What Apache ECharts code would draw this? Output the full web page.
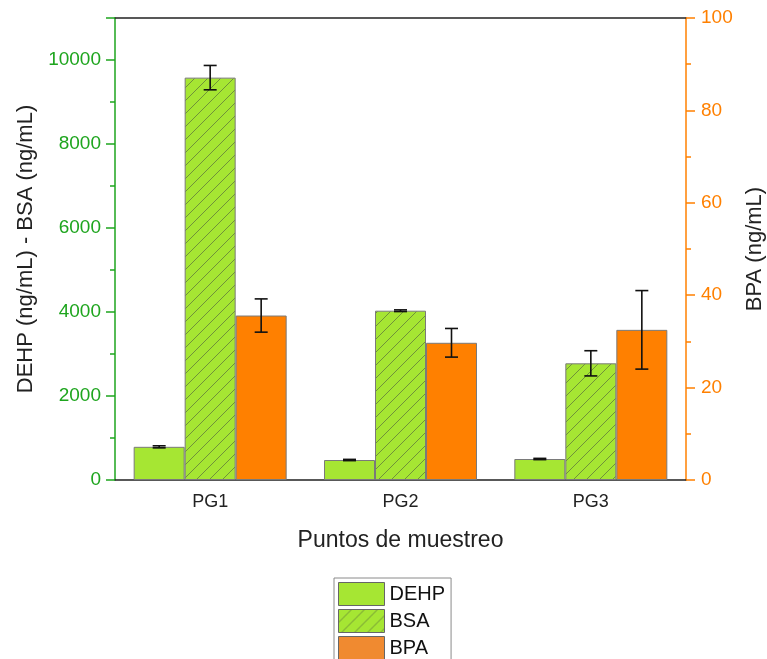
<!DOCTYPE html>
<html>
<head>
<meta charset="utf-8">
<script src="https://cdn.jsdelivr.net/npm/echarts@6/dist/echarts.min.js"></script>
<style>html,body{margin:0;padding:0;background:#fff;overflow:hidden}#c{width:767px;height:659px}</style>
</head>
<body>
<div id="c"></div>
<script>
const categories = ['PG1', 'PG2', 'PG3'];
const dehp = [790, 476, 500];
const dehpErr = [25, 15, 15];
const bsa = [9580, 4031, 2778];
const bsaErr = [290, 20, 300];
const bpa = [35.6, 29.7, 32.5];
const bpaErr = [3.6, 3.1, 8.5];

const FONT = '"Liberation Sans", Arial, sans-serif';
const GREEN = '#a6e633';
const ORANGE = '#ff8000';
const AXGREEN = '#1ea51e';

function hatch() {
  const s = 13;
  const c = document.createElement('canvas');
  c.width = s; c.height = s;
  const g = c.getContext('2d');
  g.fillStyle = GREEN;
  g.fillRect(0, 0, s, s);
  g.strokeStyle = 'rgba(90,110,60,0.7)';
  g.lineWidth = 1;
  g.beginPath();
  g.moveTo(0, s); g.lineTo(s, 0);
  g.moveTo(-2, 2); g.lineTo(2, -2);
  g.moveTo(s - 2, s + 2); g.lineTo(s + 2, s - 2);
  g.stroke();
  return c;
}

function errData(vals, errs) {
  return vals.map((v, i) => [i, v - errs[i], v + errs[i]]);
}
function errSeries(vals, errs, yIdx, offset) {
  return {
    type: 'custom',
    xAxisIndex: 0,
    yAxisIndex: yIdx,
    z: 10,
    silent: true,
    encode: { x: 0, y: [1, 2] },
    data: errData(vals, errs),
    renderItem: function (params, api) {
      const x = api.value(0);
      const pHi = api.coord([x, api.value(2)]);
      const pLo = api.coord([x, api.value(1)]);
      const cx = pHi[0] + offset;
      const h = 6.5;
      const st = { stroke: '#111', lineWidth: 1.6 };
      return {
        type: 'group',
        children: [
          { type: 'line', shape: { x1: cx, y1: pHi[1], x2: cx, y2: pLo[1] }, style: st },
          { type: 'line', shape: { x1: cx - h, y1: pHi[1], x2: cx + h, y2: pHi[1] }, style: st },
          { type: 'line', shape: { x1: cx - h, y1: pLo[1], x2: cx + h, y2: pLo[1] }, style: st }
        ]
      };
    }
  };
}

const chart = echarts.init(document.getElementById('c'), null, { renderer: 'canvas', width: 767, height: 659 });
const BW = 51;
chart.setOption({
  animation: false,
  textStyle: { fontFamily: FONT },
  grid: { left: 115, right: 81, top: 18, bottom: 179, containLabel: false, outerBoundsMode: 'none' },
  legend: {
    orient: 'vertical',
    left: 334,
    top: 578,
    height: 90,
    padding: [4, 6, 4, 4],
    itemWidth: 46,
    itemHeight: 23,
    itemGap: 3,
    icon: 'rect',
    borderColor: '#8a8a8a',
    borderWidth: 1,
    data: [
      { name: 'DEHP' },
      { name: 'BSA' },
      { name: 'BPA', itemStyle: { color: '#f08a30' } }
    ],
    textStyle: { fontSize: 20, color: '#111', fontFamily: FONT },
    itemStyle: { borderColor: '#666', borderWidth: 1 }
  },
  xAxis: [
    {
      type: 'category',
      data: categories,
      position: 'bottom',
      name: 'Puntos de muestreo',
      nameLocation: 'middle',
      nameGap: 49,
      nameTextStyle: { fontSize: 23, color: '#222', fontFamily: FONT },
      axisLine: { lineStyle: { color: '#222', width: 1.5 } },
      axisTick: { alignWithLabel: true, length: 8, lineStyle: { color: '#222', width: 1.5 } },
      axisLabel: { fontSize: 18, color: '#222', margin: 13, fontFamily: FONT }
    },
    {
      type: 'category',
      data: categories,
      position: 'bottom',
      axisLine: { show: false },
      axisTick: { length: 4, lineStyle: { color: '#222', width: 1.5 } },
      axisLabel: { show: false }
    },
    {
      type: 'category',
      data: categories,
      position: 'top',
      axisLine: { lineStyle: { color: '#222', width: 1.5 } },
      axisTick: { show: false },
      axisLabel: { show: false }
    }
  ],
  yAxis: [
    {
      type: 'value',
      position: 'left',
      min: 0, max: 11000, interval: 2000,
      name: 'DEHP (ng/mL) - BSA (ng/mL)',
      nameLocation: 'middle',
      nameRotate: 90,
      nameGap: 78,
      nameTextStyle: { fontSize: 22, color: '#222', fontFamily: FONT },
      axisLine: { show: true, lineStyle: { color: AXGREEN, width: 1.5 } },
      axisTick: { show: true, length: 9, lineStyle: { color: AXGREEN, width: 1.5 } },
      minorTick: { show: true, splitNumber: 2, length: 5, lineStyle: { color: AXGREEN, width: 1.5 } },
      axisLabel: { fontSize: 19, color: AXGREEN, margin: 14, showMaxLabel: false, fontFamily: FONT,
        formatter: v => String(v) },
      splitLine: { show: false }
    },
    {
      type: 'value',
      position: 'right',
      min: 0, max: 100, interval: 20,
      name: 'BPA (ng/mL)',
      nameLocation: 'middle',
      nameRotate: 90,
      nameGap: 58,
      nameTextStyle: { fontSize: 22, color: '#222', fontFamily: FONT },
      axisLine: { show: true, lineStyle: { color: ORANGE, width: 1.5 } },
      axisTick: { show: true, length: 9, lineStyle: { color: ORANGE, width: 1.5 } },
      minorTick: { show: true, splitNumber: 2, length: 5, lineStyle: { color: ORANGE, width: 1.5 } },
      axisLabel: { fontSize: 19, color: ORANGE, margin: 15, fontFamily: FONT },
      splitLine: { show: false }
    }
  ],
  series: [
    {
      name: 'DEHP', type: 'bar', xAxisIndex: 0, yAxisIndex: 0,
      barWidth: BW, barGap: '0%',
      data: dehp,
      itemStyle: { color: GREEN, borderColor: '#7a7a7a', borderWidth: 1 }
    },
    {
      name: 'BSA', type: 'bar', xAxisIndex: 0, yAxisIndex: 0,
      barWidth: BW, barGap: '0%',
      data: bsa,
      itemStyle: { color: { image: hatch(), repeat: 'repeat' }, borderColor: '#7a7a7a', borderWidth: 1 }
    },
    {
      name: 'BPA', type: 'bar', xAxisIndex: 0, yAxisIndex: 1,
      barWidth: BW, barGap: '0%',
      data: bpa,
      itemStyle: { color: ORANGE, borderColor: '#7a7a7a', borderWidth: 1 }
    },
    errSeries(dehp, dehpErr, 0, -BW),
    errSeries(bsa, bsaErr, 0, 0),
    errSeries(bpa, bpaErr, 1, BW)
  ]
});
</script>
</body>
</html>
